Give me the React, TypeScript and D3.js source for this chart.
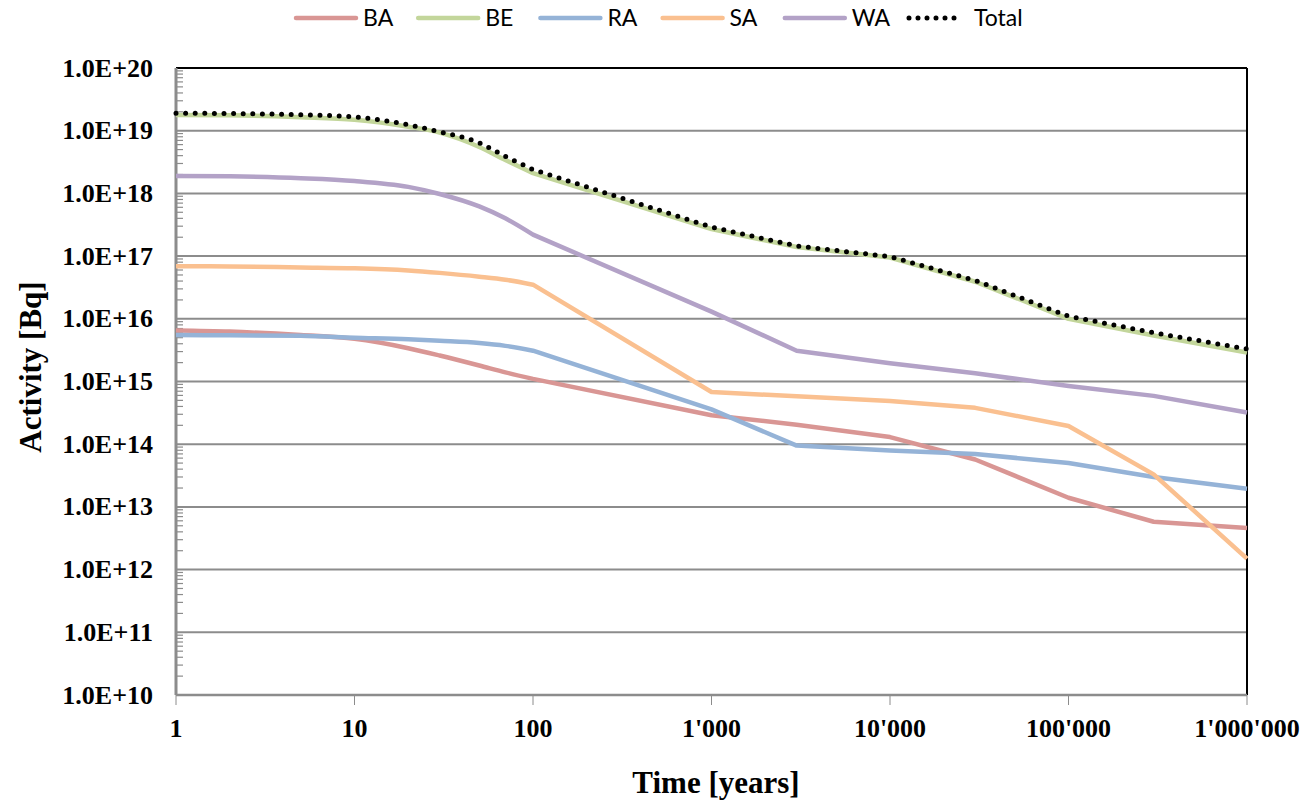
import React from 'react'
import * as d3 from 'd3'

// time points in years
const times = [1, 2, 5, 10, 20, 30, 50, 70, 100, 1000, 3000, 10000, 30000, 100000, 300000, 1000000]

// activity in Bq per waste category
const BA = [6.5e15, 6.25e15, 5.5e15, 4.8e15, 3.4e15, 2.6e15, 1.8e15, 1.4e15, 1.1e15, 2.9e14, 2.05e14, 1.3e14, 5.7e13, 1.4e13, 5.8e12, 4.6e12]
const BE = [1.78e19, 1.76e19, 1.64e19, 1.5e19, 1.16e19, 9.3e18, 5.5e18, 3.4e18, 2.1e18, 2.7e17, 1.4e17, 9.5e16, 3.9e16, 1.0e16, 5.4e15, 2.9e15]
const RA = [5.5e15, 5.45e15, 5.35e15, 5.0e15, 4.7e15, 4.45e15, 4.1e15, 3.7e15, 3.1e15, 3.6e14, 9.5e13, 7.9e13, 7.0e13, 5.0e13, 3.0e13, 1.95e13]
const SA = [6.9e16, 6.85e16, 6.6e16, 6.4e16, 5.9e16, 5.4e16, 4.7e16, 4.2e16, 3.5e16, 6.8e14, 5.8e14, 4.9e14, 3.8e14, 1.95e14, 3.3e13, 1.5e12]
const WA = [1.9e18, 1.87e18, 1.75e18, 1.58e18, 1.27e18, 9.8e17, 6.2e17, 4.0e17, 2.2e17, 1.3e16, 3.1e15, 1.95e15, 1.35e15, 8.5e14, 5.9e14, 3.2e14]
const Total = [1.9e19, 1.88e19, 1.8e19, 1.66e19, 1.24e19, 9.6e18, 6.4e18, 3.9e18, 2.4e18, 2.9e17, 1.45e17, 9.8e16, 4.1e16, 1.1e16, 6.0e15, 3.3e15]

const seriesNames = ['BA', 'BE', 'RA', 'SA', 'WA', 'Total']
const seriesValues = [BA, BE, RA, SA, WA, Total]
const seriesColors = ['#d99694', '#c3d69b', '#95b3d7', '#fac090', '#b3a2c7', '#000000']

const xTicks = [1, 10, 100, 1000, 10000, 100000, 1000000]
const yTicks = [1e10, 1e11, 1e12, 1e13, 1e14, 1e15, 1e16, 1e17, 1e18, 1e19, 1e20]

export default function App() {
  const width = 1306
  const height = 803
  const margin = { top: 68, right: 59, bottom: 108, left: 176 }

  const x = d3.scaleLog().domain([1, 1e6]).range([margin.left, width - margin.right])
  const y = d3.scaleLog().domain([1e10, 1e20]).range([height - margin.bottom, margin.top])

  // dense early part is drawn smooth, the rest straight
  const split = times.indexOf(100)
  const smooth = d3.line<[number, number]>().x(d => x(d[0])).y(d => y(d[1])).curve(d3.curveMonotoneX)
  const straight = d3.line<[number, number]>().x(d => x(d[0])).y(d => y(d[1]))
  const pathFor = (vals: number[]) => {
    const pts = vals.map((v, i) => [times[i], v] as [number, number])
    const a = smooth(pts.slice(0, split + 1)) || ''
    const b = (straight(pts.slice(split)) || '').replace(/^M/, 'L')
    return a + b
  }

  const xFmt = (v: number) => d3.format(',')(v).replace(/,/g, "'")
  const yFmt = (v: number) => '1.0E+' + Math.round(Math.log10(v))

  // minor ticks for each decade of the y axis
  const minor: number[] = []
  for (let e = 10; e < 20; e++) {
    for (let m = 2; m <= 9; m++) minor.push(m * Math.pow(10, e))
  }

  const [x0, x1] = x.range()
  const [y0, y1] = y.range()
  const serif = '"Liberation Serif", "Times New Roman", serif'

  return (
    <svg width={width} height={height} style={{ position: 'absolute', left: 0, top: 0, background: '#fff' }}>
      {/* gridlines */}
      {yTicks.slice(0, -1).map(t => (
        <line key={t} x1={x0} x2={x1} y1={y(t)} y2={y(t)} stroke="#8c8c8c" strokeWidth={2} />
      ))}
      {/* border top/right */}
      <line x1={x0} x2={x1} y1={y1} y2={y1} stroke="#000" strokeWidth={2} />
      <line x1={x1} x2={x1} y1={y1} y2={y0} stroke="#000" strokeWidth={2} />
      {/* bottom axis */}
      <line x1={x0} x2={x1} y1={y0} y2={y0} stroke="#8c8c8c" strokeWidth={2.5} />
      {xTicks.map(t => (
        <line key={t} x1={x(t)} x2={x(t)} y1={y0} y2={y0 + 10} stroke="#8c8c8c" strokeWidth={1} />
      ))}
      {/* left axis */}
      {minor.map(t => (
        <line key={t} x1={x0} x2={x0 + 7} y1={y(t)} y2={y(t)} stroke="#8c8c8c" strokeWidth={1.2} />
      ))}
      <line x1={x0} x2={x0} y1={y1} y2={y0} stroke="#8c8c8c" strokeWidth={3} />

      {/* series */}
      {seriesValues.map((vals, i) => (
        seriesNames[i] === 'Total'
          ? <path key={i} d={pathFor(vals)} fill="none" stroke="#000" strokeWidth={5}
              strokeLinecap="round" strokeDasharray="0 9.6" />
          : <path key={i} d={pathFor(vals)} fill="none" stroke={seriesColors[i]} strokeWidth={4.5}
              strokeLinejoin="round" />
      ))}

      {/* tick labels */}
      {yTicks.map(t => (
        <text key={t} x={153} y={y(t)} dy="0.33em" textAnchor="end" fontFamily={serif}
          fontWeight="bold" fontSize={26}>{yFmt(t)}</text>
      ))}
      {xTicks.map(t => (
        <text key={t} x={x(t)} y={737} textAnchor="middle" fontFamily={serif}
          fontWeight="bold" fontSize={26}>{xFmt(t)}</text>
      ))}

      {/* axis titles */}
      <text x={716} y={793} textAnchor="middle" fontFamily={serif} fontWeight="bold" fontSize={31}>Time [years]</text>
      <text transform="translate(41,367) rotate(-90)" textAnchor="middle" fontFamily={serif}
        fontWeight="bold" fontSize={31}>Activity [Bq]</text>

      {/* legend */}
      {seriesNames.map((name, i) => {
        const lx = 296 + i * 122.2
        return (
          <g key={name}>
            {name === 'Total'
              ? <line x1={lx + 2} x2={lx + 56} y1={18} y2={18} stroke="#000" strokeWidth={5}
                  strokeLinecap="round" strokeDasharray="0 9" />
              : <line x1={lx} x2={lx + 60} y1={18} y2={18} stroke={seriesColors[i]} strokeWidth={4.5}
                  strokeLinecap="round" />}
            <text x={lx + 67} y={26} fontFamily="Lato, 'Noto Sans', sans-serif" fontSize={23}>{name}</text>
          </g>
        )
      })}
    </svg>
  )
}
